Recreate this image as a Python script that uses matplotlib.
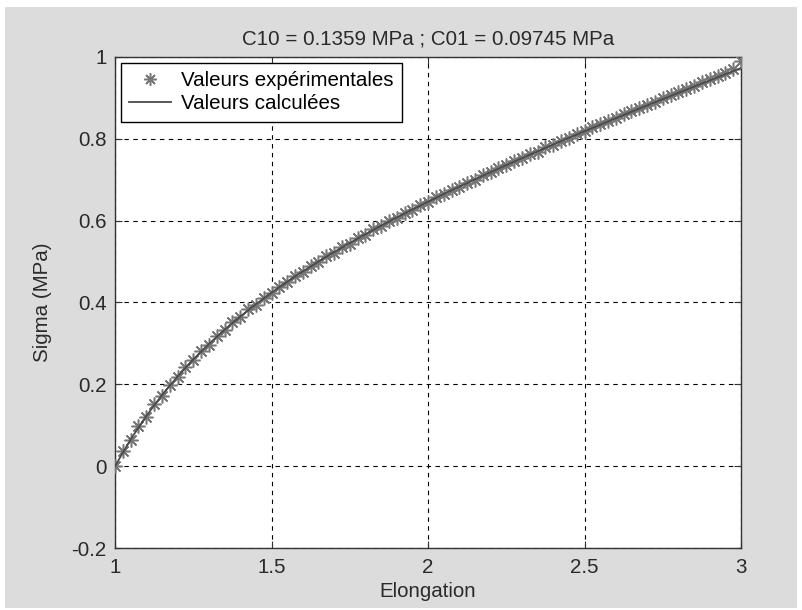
import matplotlib
matplotlib.use('Agg')
import matplotlib.pyplot as plt
from matplotlib.patches import Rectangle

plt.rcParams['font.family'] = ['Liberation Sans', 'DejaVu Sans']

# experimental points (elongation, sigma in MPa)
exp_x = [1.000, 1.025, 1.050, 1.075, 1.100, 1.125, 1.150, 1.175, 1.200, 1.225,
         1.250, 1.275, 1.300, 1.325, 1.350, 1.375, 1.400, 1.425, 1.450, 1.475,
         1.500, 1.525, 1.550, 1.575, 1.600, 1.625, 1.650, 1.675, 1.700, 1.725,
         1.750, 1.775, 1.800, 1.825, 1.850, 1.875, 1.900, 1.925, 1.950, 1.975,
         2.000, 2.025, 2.050, 2.075, 2.100, 2.125, 2.150, 2.175, 2.200, 2.225,
         2.250, 2.275, 2.300, 2.325, 2.350, 2.375, 2.400, 2.425, 2.450, 2.475,
         2.500, 2.525, 2.550, 2.575, 2.600, 2.625, 2.650, 2.675, 2.700, 2.725,
         2.750, 2.775, 2.800, 2.825, 2.850, 2.875, 2.900, 2.925, 2.950, 2.975,
         3.000]
exp_y = [0.000, 0.036, 0.064, 0.097, 0.121, 0.151, 0.172, 0.199, 0.218, 0.243,
         0.259, 0.282, 0.297, 0.318, 0.332, 0.352, 0.364, 0.383, 0.394, 0.412,
         0.423, 0.439, 0.449, 0.465, 0.475, 0.490, 0.499, 0.513, 0.522, 0.536,
         0.544, 0.558, 0.566, 0.579, 0.586, 0.599, 0.607, 0.619, 0.626, 0.638,
         0.645, 0.657, 0.664, 0.675, 0.682, 0.693, 0.700, 0.711, 0.718, 0.728,
         0.735, 0.745, 0.752, 0.762, 0.769, 0.779, 0.786, 0.795, 0.802, 0.812,
         0.818, 0.828, 0.835, 0.844, 0.851, 0.860, 0.867, 0.876, 0.883, 0.891,
         0.899, 0.907, 0.914, 0.922, 0.930, 0.938, 0.946, 0.954, 0.962, 0.971,
         0.990]

# calculated curve
calc_x = [1.00, 1.05, 1.10, 1.15, 1.20, 1.25, 1.30, 1.35, 1.40, 1.45,
          1.50, 1.55, 1.60, 1.65, 1.70, 1.75, 1.80, 1.85, 1.90, 1.95,
          2.00, 2.05, 2.10, 2.15, 2.20, 2.25, 2.30, 2.35, 2.40, 2.45,
          2.50, 2.55, 2.60, 2.65, 2.70, 2.75, 2.80, 2.85, 2.90, 2.95, 3.00]
calc_y = [0.0000, 0.0654, 0.1228, 0.1738, 0.2195, 0.2609, 0.2987, 0.3335, 0.3657, 0.3958,
          0.4241, 0.4507, 0.4760, 0.5001, 0.5232, 0.5454, 0.5668, 0.5875, 0.6076, 0.6271,
          0.6462, 0.6648, 0.6830, 0.7009, 0.7184, 0.7356, 0.7526, 0.7694, 0.7859, 0.8023,
          0.8184, 0.8344, 0.8503, 0.8660, 0.8816, 0.8970, 0.9124, 0.9276, 0.9428, 0.9579, 0.9729]

xticks = [1, 1.5, 2, 2.5, 3]
xticklabels = ['1', '1.5', '2', '2.5', '3']
yticks = [-0.2, 0, 0.2, 0.4, 0.6, 0.8, 1]
yticklabels = ['-0.2', '0', '0.2', '0.4', '0.6', '0.8', '1']

FS = 14.8
TXT = '#2a2a2a'

fig = plt.figure(figsize=(8.02, 6.10), dpi=100, facecolor='white')
# grey window area inside a thin white border
fig.patches.append(Rectangle((5 / 802, 2 / 610), 792 / 802, 601 / 610,
                             transform=fig.transFigure, facecolor='#dcdcdc',
                             edgecolor='none', zorder=-10))
ax = fig.add_axes([0.1434, 0.1016, 0.7806, 0.8050])
ax.set_facecolor('white')

ax.plot(exp_x, exp_y, linestyle='none', marker=(8, 2, 0), markersize=10,
        color='#777777', markeredgewidth=1.1, label='Valeurs expérimentales', zorder=3)
ax.plot(calc_x, calc_y, color='#4a4a4a', linewidth=1.3, label='Valeurs calculées', zorder=4)

ax.set_xlim(1, 3)
ax.set_ylim(-0.2, 1)
ax.set_xticks(xticks)
ax.set_xticklabels(xticklabels)
ax.set_yticks(yticks)
ax.set_yticklabels(yticklabels)
ax.tick_params(axis='both', direction='in', top=True, right=True, labelsize=FS,
               length=5, colors='#333333', labelcolor=TXT)
ax.tick_params(axis='y', pad=6)
ax.tick_params(axis='x', pad=7)
ax.grid(True, color='black', linestyle=(0, (4, 4)), linewidth=0.8)
for s in ax.spines.values():
    s.set_color('#333333')
    s.set_linewidth(1.0)

ax.set_title('C10 = 0.1359 MPa ; C01 = 0.09745 MPa', fontsize=FS, color=TXT, pad=9)
ax.set_xlabel('Elongation', fontsize=FS, color=TXT, labelpad=4)
ax.set_ylabel('Sigma (MPa)', fontsize=FS, color=TXT, labelpad=14)

leg = ax.legend(loc='upper left', fontsize=FS, fancybox=False, framealpha=1,
                edgecolor='black', borderaxespad=0.3, handlelength=2.0,
                handletextpad=0.5, borderpad=0.4, labelspacing=0.2, markerscale=0.9)
leg.get_frame().set_linewidth(1.0)

fig.savefig('out.png', dpi=100, facecolor=fig.get_facecolor())
